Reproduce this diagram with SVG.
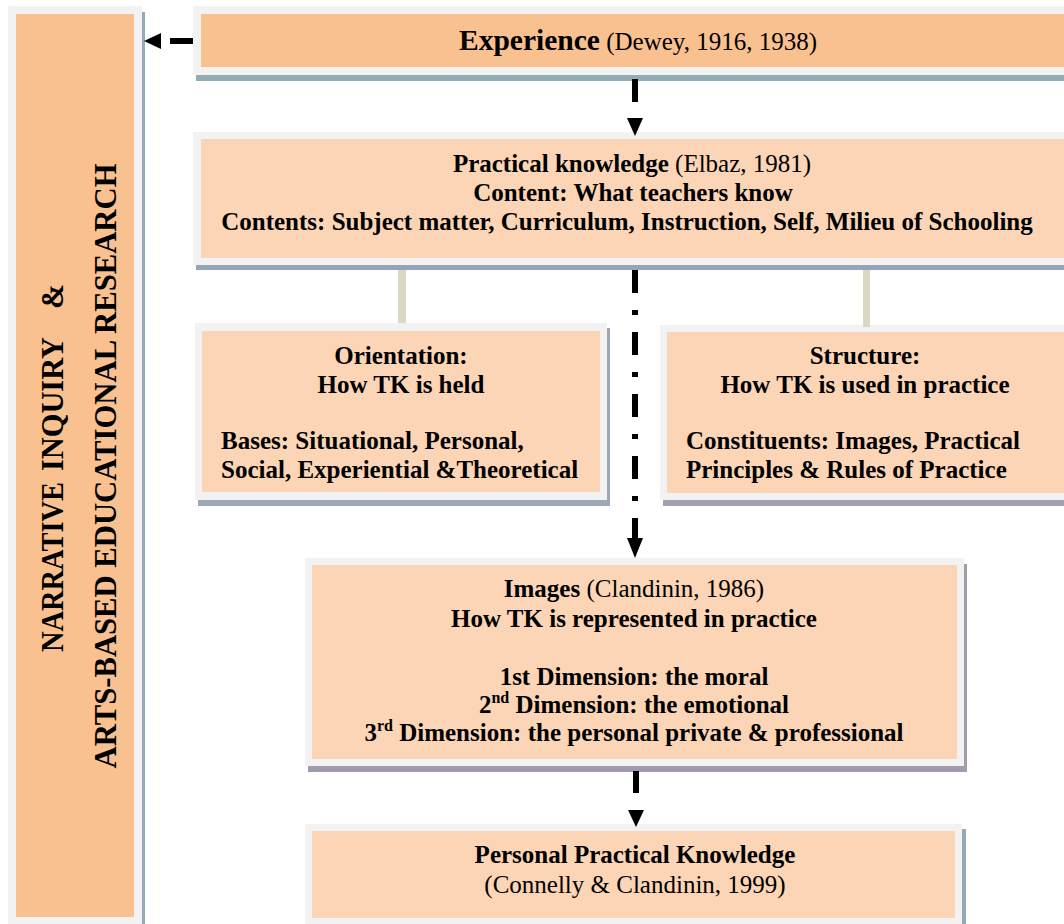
<svg xmlns="http://www.w3.org/2000/svg" width="1064" height="924" viewBox="0 0 1064 924">
<style>
.frame{fill:#f2f2f2}
.dark{fill:#f9c090}
.light{fill:#fbd5b5}
.t{font-family:"Liberation Serif","Times New Roman",serif;font-size:25px;fill:#000}
.b{font-weight:bold}
.r{font-weight:normal}
.c{text-anchor:middle}
.v{font-family:"Liberation Serif","Times New Roman",serif;font-size:31px;font-weight:bold;fill:#000}
.conn{stroke:#000;stroke-width:6;fill:none}
.tan{fill:#ddd8c1}
</style>
<rect width="1064" height="924" fill="#ffffff"/>

<g id="side">
<rect x="11" y="12" width="134" height="918" fill="#93abb6"/>
<rect class="frame" x="8" y="6" width="134" height="918"/>
<rect class="dark" x="16" y="14" width="118" height="903"/>
<text class="v" transform="translate(63,652) rotate(-90)" textLength="170" lengthAdjust="spacingAndGlyphs">NARRATIVE</text>
<text class="v" transform="translate(63,471) rotate(-90)" textLength="134" lengthAdjust="spacingAndGlyphs">INQUIRY</text>
<text class="v" transform="translate(63,309) rotate(-90)" textLength="25" lengthAdjust="spacingAndGlyphs">&amp;</text>
<text class="v" transform="translate(116,466) rotate(-90)" text-anchor="middle" textLength="605" lengthAdjust="spacingAndGlyphs">ARTS-BASED EDUCATIONAL  RESEARCH</text>
</g>

<g id="experience">
<rect x="196" y="12" width="880" height="69" fill="#93adb7"/>
<rect class="frame" x="193" y="6" width="880" height="69"/>
<rect class="dark" x="201" y="14" width="870" height="53"/>
<text class="t" x="459" y="50"><tspan class="b" font-size="29.5">Experience</tspan><tspan class="r"> (Dewey, 1916, 1938)</tspan></text>
</g>

<g id="practical">
<rect x="196" y="138" width="880" height="132" fill="#95a5b5"/>
<rect class="frame" x="193" y="132" width="880" height="133"/>
<rect class="light" x="201" y="139" width="870" height="119"/>
<text class="t c" x="632" y="172"><tspan class="b">Practical knowledge</tspan><tspan class="r"> (Elbaz, 1981)</tspan></text>
<text class="t b c" x="633" y="201">Content: What teachers know</text>
<text class="t b c" x="627" y="230">Contents: Subject matter, Curriculum, Instruction, Self, Milieu of Schooling</text>
</g>

<g id="orientation">
<rect x="198" y="328" width="412" height="178" fill="#9ca8b8"/>
<rect class="frame" x="195" y="323" width="412" height="177"/>
<rect class="light" x="202" y="331" width="398" height="161"/>
<text class="t b c" x="401" y="364">Orientation:</text>
<text class="t b c" x="401" y="393">How TK is held</text>
<text class="t b" x="221" y="449">Bases: Situational, Personal,</text>
<text class="t b" x="221" y="478">Social, Experiential &amp;Theoretical</text>
</g>

<g id="structure">
<rect x="663" y="330" width="420" height="176" fill="#a49fb1"/>
<rect class="frame" x="660" y="325" width="420" height="175"/>
<rect class="light" x="667" y="332" width="410" height="161"/>
<text class="t b c" x="865" y="364">Structure:</text>
<text class="t b c" x="865" y="393">How TK is used in practice</text>
<text class="t b" x="686" y="449">Constituents: Images, Practical</text>
<text class="t b" x="686" y="478">Principles &amp; Rules of Practice</text>
</g>

<g id="images">
<rect x="308" y="564" width="659" height="208" fill="#a39bad"/>
<rect class="frame" x="305" y="558" width="659" height="208"/>
<rect class="light" x="312" y="565" width="645" height="194"/>
<text class="t c" x="634" y="597"><tspan class="b">Images</tspan><tspan class="r"> (Clandinin, 1986)</tspan></text>
<text class="t b c" x="634" y="627">How TK is represented in practice</text>
<text class="t b c" x="634" y="685">1st Dimension: the moral</text>
<text class="t b c" x="634" y="713">2<tspan font-size="16" dy="-10">nd</tspan><tspan dy="10"> Dimension: the emotional</tspan></text>
<text class="t b c" x="634" y="741">3<tspan font-size="16" dy="-10">rd</tspan><tspan dy="10"> Dimension: the personal private &amp; professional</tspan></text>
</g>

<g id="ppk">
<rect x="308" y="829" width="658" height="110" fill="#96a8b8"/>
<rect class="frame" x="305" y="824" width="657" height="110"/>
<rect class="light" x="312" y="831" width="643" height="87"/>
<text class="t b c" x="635" y="863">Personal Practical Knowledge</text>
<text class="t r c" x="635" y="893">(Connelly &amp; Clandinin, 1999)</text>
</g>

<g id="connectors">
<line class="conn" x1="193" y1="41" x2="170" y2="41"/>
<polygon points="144,41 161,33 161,49" fill="#000"/>
<line class="conn" x1="635" y1="79" x2="635" y2="102"/>
<polygon points="635,136 627,118 643,118" fill="#000"/>
<rect class="tan" x="398" y="270" width="8" height="53"/>
<rect class="tan" x="863" y="270" width="7" height="57"/>
<line class="conn" x1="635" y1="270" x2="635" y2="540" stroke-dasharray="23 17 5 17"/>
<polygon points="635,558 627,538 643,538" fill="#000"/>
<line class="conn" x1="636" y1="771" x2="636" y2="793"/>
<polygon points="636,827 628,810 644,810" fill="#000"/>
</g>
</svg>
